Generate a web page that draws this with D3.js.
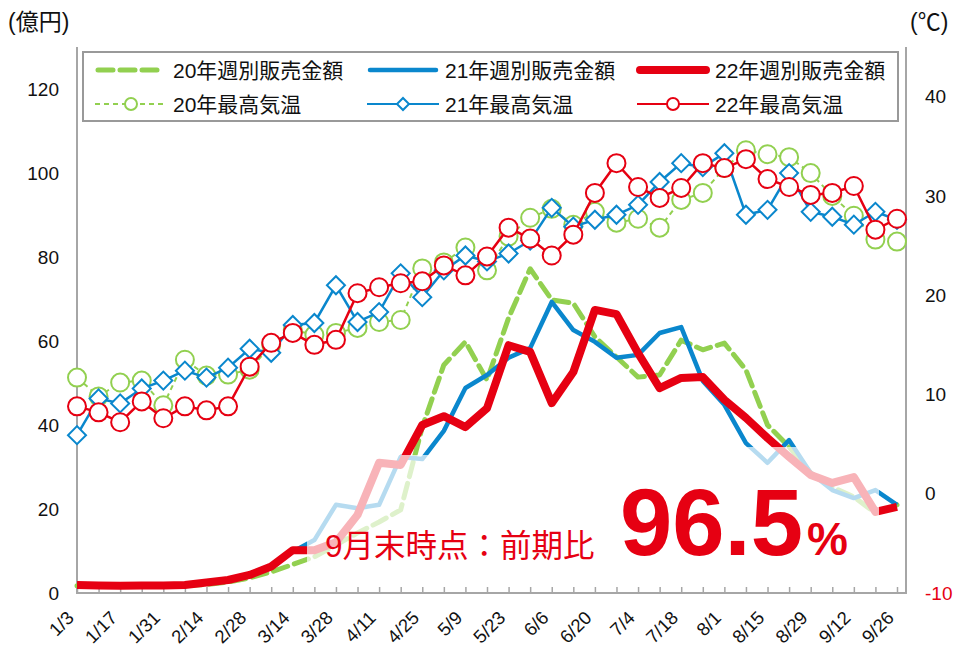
<!DOCTYPE html>
<html>
<head>
<meta charset="utf-8">
<script src="https://cdn.jsdelivr.net/npm/d3@7"></script>
<style>
  body { margin: 0; background: #fff; }
  text { font-family: "Liberation Sans", "Noto Sans CJK JP", sans-serif; }
</style>
</head>
<body>
<div id="chart"></div>
<script>
// 週（横軸のカテゴリ）
var weeks = ["1/3","1/10","1/17","1/24","1/31","2/7","2/14","2/21","2/28","3/7",
  "3/14","3/21","3/28","4/4","4/11","4/18","4/25","5/2","5/9","5/16",
  "5/23","5/30","6/6","6/13","6/20","6/27","7/4","7/11","7/18","7/25",
  "8/1","8/8","8/15","8/22","8/29","9/5","9/12","9/19","9/26"];
// 横軸に表示するラベル（2週ごと）
var xLabels = ["1/3","1/17","1/31","2/14","2/28","3/14","3/28","4/11","4/25","5/9",
  "5/23","6/6","6/20","7/4","7/18","8/1","8/15","8/29","9/12","9/26"];
var leftTicks = [0, 20, 40, 60, 80, 100, 120];
var rightTicks = [-10, 0, 10, 20, 30, 40];

// 週別販売金額（億円）
var sales20 = [1.7,1.7,1.6,1.7,1.7,1.8,2.0,2.6,3.6,5.0,6.8,8.6,11.4,14.3,16.9,19.8,39.5,54.3,59.8,50.7,
  65.5,77.2,69.8,69.0,61.0,56.2,51.4,51.9,60.2,57.9,59.5,53.1,40.0,34.8,28.6,25.2,22.9,19.0,21.0];
var sales21 = [1.6,1.6,1.6,1.7,1.8,1.9,2.4,3.3,4.5,6.4,9.8,12.6,21.0,20.2,21.0,32.4,31.9,38.6,48.8,51.9,
  56.0,58.3,69.3,62.6,59.8,56.0,56.7,61.9,63.3,50.5,44.8,35.7,31.0,36.4,28.6,24.5,22.6,24.5,21.0];
var sales22 = [1.9,1.8,1.7,1.8,1.8,1.9,2.5,3.1,4.3,6.3,10.2,10.2,12.1,18.6,31.0,30.5,40.0,42.1,39.5,44.0,
  59.0,57.4,45.2,52.6,67.4,66.4,57.1,48.8,51.2,51.4,46.0,41.7,36.9,32.4,28.1,26.2,27.6,19.3,20.5];

// 最高気温（℃）
var temp20 = [11.7,9.8,11.2,11.4,8.9,13.5,11.9,12.0,12.5,15.0,16.5,16.0,16.2,16.7,17.3,17.5,22.7,23.3,24.8,22.5,
  25.9,27.8,28.7,27.1,28.4,27.3,27.7,26.8,29.6,30.3,32.8,34.6,34.2,33.9,32.3,30.0,28.0,25.6,25.4];
var temp21 = [5.9,9.6,9.1,10.6,11.4,12.4,11.7,12.7,14.6,14.2,17.0,17.2,21.0,17.3,18.3,22.2,19.8,22.5,24.0,23.4,
  24.2,25.5,28.8,26.9,27.6,28.1,29.1,31.4,33.3,32.9,34.3,28.1,28.6,32.3,28.4,27.9,27.1,28.4,27.6];
var temp22 = [8.8,8.2,7.2,9.3,7.6,8.8,8.4,8.8,12.8,15.2,16.2,15.0,15.5,20.2,20.8,21.2,21.4,23.0,22.0,23.9,
  26.8,25.7,24.0,26.1,30.3,33.3,30.9,29.8,30.8,33.3,32.8,33.7,31.7,30.9,30.1,30.3,31.0,26.6,27.7];

var GREEN = "#92D050", BLUE = "#0A87CD", RED = "#E60012", AXIS = "#A6A6A6";

var W = 953, H = 646;
var svg = d3.select("#chart").append("svg").attr("width", W).attr("height", H);

// スケール
var x = d3.scalePoint().domain(weeks).range([77, 897]);
var yL = d3.scaleLinear().domain([0, 130]).range([593, 47]);
var yR = d3.scaleLinear().domain([-10, 45]).range([593, 47]);
var plotRight = 906;

// 軸の線
svg.append("line").attr("x1", 77).attr("x2", 77).attr("y1", 47).attr("y2", 593)
  .attr("stroke", AXIS).attr("stroke-width", 2);
svg.append("line").attr("x1", plotRight).attr("x2", plotRight).attr("y1", 47).attr("y2", 593)
  .attr("stroke", AXIS).attr("stroke-width", 2);

var xAxis = d3.axisBottom(x).tickSizeInner(-6).tickSizeOuter(0).tickFormat("");
var gx = svg.append("g").attr("transform", "translate(0,593)").call(xAxis);
gx.select(".domain").remove();
gx.selectAll(".tick line").attr("stroke", AXIS).attr("stroke-width", 1.5);
svg.append("line").attr("x1", 76).attr("x2", plotRight + 1).attr("y1", 593).attr("y2", 593)
  .attr("stroke", AXIS).attr("stroke-width", 2);

// 横軸ラベル（斜め）
svg.append("g").selectAll("text").data(xLabels).enter().append("text")
  .attr("transform", function(d) { return "translate(" + (x(d) - 2) + ",619) rotate(-45)"; })
  .attr("text-anchor", "end")
  .style("font-size", "18.5px").attr("fill", "#111")
  .text(function(d) { return d; });

// 左右の目盛り
svg.append("g").selectAll("text").data(leftTicks).enter().append("text")
  .attr("x", 59).attr("y", function(d) { return yL(d); }).attr("dy", "0.35em")
  .attr("text-anchor", "end").style("font-size", "19px").attr("fill", "#111")
  .text(function(d) { return d; });
svg.append("g").selectAll("text").data(rightTicks).enter().append("text")
  .attr("x", 925).attr("y", function(d) { return yR(d); }).attr("dy", "0.35em")
  .attr("text-anchor", "start").style("font-size", "19px")
  .attr("fill", function(d) { return d < 0 ? RED : "#111"; })
  .text(function(d) { return d; });

svg.append("text").attr("x", 8).attr("y", 30).style("font-size", "23px")
  .attr("fill", "#111").text("(億円)");
svg.append("text").attr("x", 910).attr("y", 30).style("font-size", "23px")
  .attr("fill", "#111").text("(℃)");

// 販売金額の線
var lineL = d3.line().x(function(d, i) { return x(weeks[i]); }).y(function(d) { return yL(d); });
var lineR = d3.line().x(function(d, i) { return x(weeks[i]); }).y(function(d) { return yR(d); });

svg.append("path").attr("d", lineL(sales20)).attr("fill", "none").attr("stroke", GREEN)
  .attr("stroke-width", 5).attr("stroke-dasharray", "15,7").attr("stroke-linecap", "round")
  .attr("stroke-linejoin", "round");
svg.append("path").attr("d", lineL(sales21)).attr("fill", "none").attr("stroke", BLUE)
  .attr("stroke-width", 4.5).attr("stroke-linejoin", "round");
svg.append("path").attr("d", lineL(sales22)).attr("fill", "none").attr("stroke", RED)
  .attr("stroke-width", 8).attr("stroke-linejoin", "round");

// 文字の背景（半透明の白）
svg.append("rect").attr("x", 307).attr("y", 455).attr("width", 300).attr("height", 125)
  .attr("fill", "#fff").attr("opacity", 0.7);
svg.append("rect").attr("x", 615).attr("y", 447).attr("width", 264).attr("height", 133)
  .attr("fill", "#fff").attr("opacity", 0.7);

// 最高気温の線とマーカー
svg.append("path").attr("d", lineR(temp20)).attr("fill", "none").attr("stroke", GREEN)
  .attr("stroke-width", 2).attr("stroke-dasharray", "5,4");
svg.append("g").selectAll("circle").data(temp20).enter().append("circle")
  .attr("cx", function(d, i) { return x(weeks[i]); }).attr("cy", function(d) { return yR(d); })
  .attr("r", 9).attr("fill", "#fff").attr("stroke", GREEN).attr("stroke-width", 2);

var diamond = d3.symbol().type(d3.symbolSquare).size(162);
svg.append("path").attr("d", lineR(temp21)).attr("fill", "none").attr("stroke", BLUE)
  .attr("stroke-width", 2.5);
svg.append("g").selectAll("path").data(temp21).enter().append("path")
  .attr("d", diamond)
  .attr("transform", function(d, i) { return "translate(" + x(weeks[i]) + "," + yR(d) + ") rotate(45)"; })
  .attr("fill", "#fff").attr("stroke", BLUE).attr("stroke-width", 2);

svg.append("path").attr("d", lineR(temp22)).attr("fill", "none").attr("stroke", RED)
  .attr("stroke-width", 2.5);
svg.append("g").selectAll("circle").data(temp22).enter().append("circle")
  .attr("cx", function(d, i) { return x(weeks[i]); }).attr("cy", function(d) { return yR(d); })
  .attr("r", 9).attr("fill", "#fff").attr("stroke", RED).attr("stroke-width", 2);

// 注記
svg.append("text").attr("x", 325).attr("y", 557).style("font-size", "31.5px")
  .attr("fill", RED).text("9月末時点：前期比");
var big = svg.append("text").attr("x", 620).attr("y", 555).attr("fill", RED)
  .style("font-weight", "bold").style("font-size", "94px");
big.append("tspan").text("96.5");
big.append("tspan").attr("dx", 4).style("font-size", "46px").text("%");

// 凡例
var lg = svg.append("g");
lg.append("rect").attr("x", 83).attr("y", 52).attr("width", 815).attr("height", 69)
  .attr("fill", "#fff").attr("stroke", "#999").attr("stroke-width", 2);
var cols = [95, 367, 637], rows = [70, 104], len = 72;
var legSales = [
  {t: "20年週別販売金額", c: GREEN, w: 5, dash: "15,7", cap: "round"},
  {t: "21年週別販売金額", c: BLUE, w: 4.5, dash: null, cap: "round"},
  {t: "22年週別販売金額", c: RED, w: 8, dash: null, cap: "round"}
];
var legTemp = [
  {t: "20年最高気温", c: GREEN, dash: "5,4", m: "circle"},
  {t: "21年最高気温", c: BLUE, dash: null, m: "diamond"},
  {t: "22年最高気温", c: RED, dash: null, m: "circle"}
];
legSales.forEach(function(d, i) {
  lg.append("line").attr("x1", cols[i] + 3).attr("x2", cols[i] + len - 3)
    .attr("y1", rows[0]).attr("y2", rows[0])
    .attr("stroke", d.c).attr("stroke-width", d.w).attr("stroke-dasharray", d.dash)
    .attr("stroke-linecap", d.cap);
  lg.append("text").attr("x", cols[i] + len + 6).attr("y", rows[0]).attr("dy", "0.36em")
    .style("font-size", "21px").attr("fill", "#111").text(d.t);
});
legTemp.forEach(function(d, i) {
  var cx = cols[i] + len / 2;
  lg.append("line").attr("x1", cols[i]).attr("x2", cols[i] + len)
    .attr("y1", rows[1]).attr("y2", rows[1])
    .attr("stroke", d.c).attr("stroke-width", 2).attr("stroke-dasharray", d.dash);
  if (d.m === "circle") {
    lg.append("circle").attr("cx", cx).attr("cy", rows[1]).attr("r", 6)
      .attr("fill", "#fff").attr("stroke", d.c).attr("stroke-width", 2);
  } else {
    lg.append("path").attr("d", d3.symbol().type(d3.symbolSquare).size(72))
      .attr("transform", "translate(" + cx + "," + rows[1] + ") rotate(45)")
      .attr("fill", "#fff").attr("stroke", d.c).attr("stroke-width", 2);
  }
  lg.append("text").attr("x", cols[i] + len + 6).attr("y", rows[1]).attr("dy", "0.36em")
    .style("font-size", "21px").attr("fill", "#111").text(d.t);
});
</script>
</body>
</html>
